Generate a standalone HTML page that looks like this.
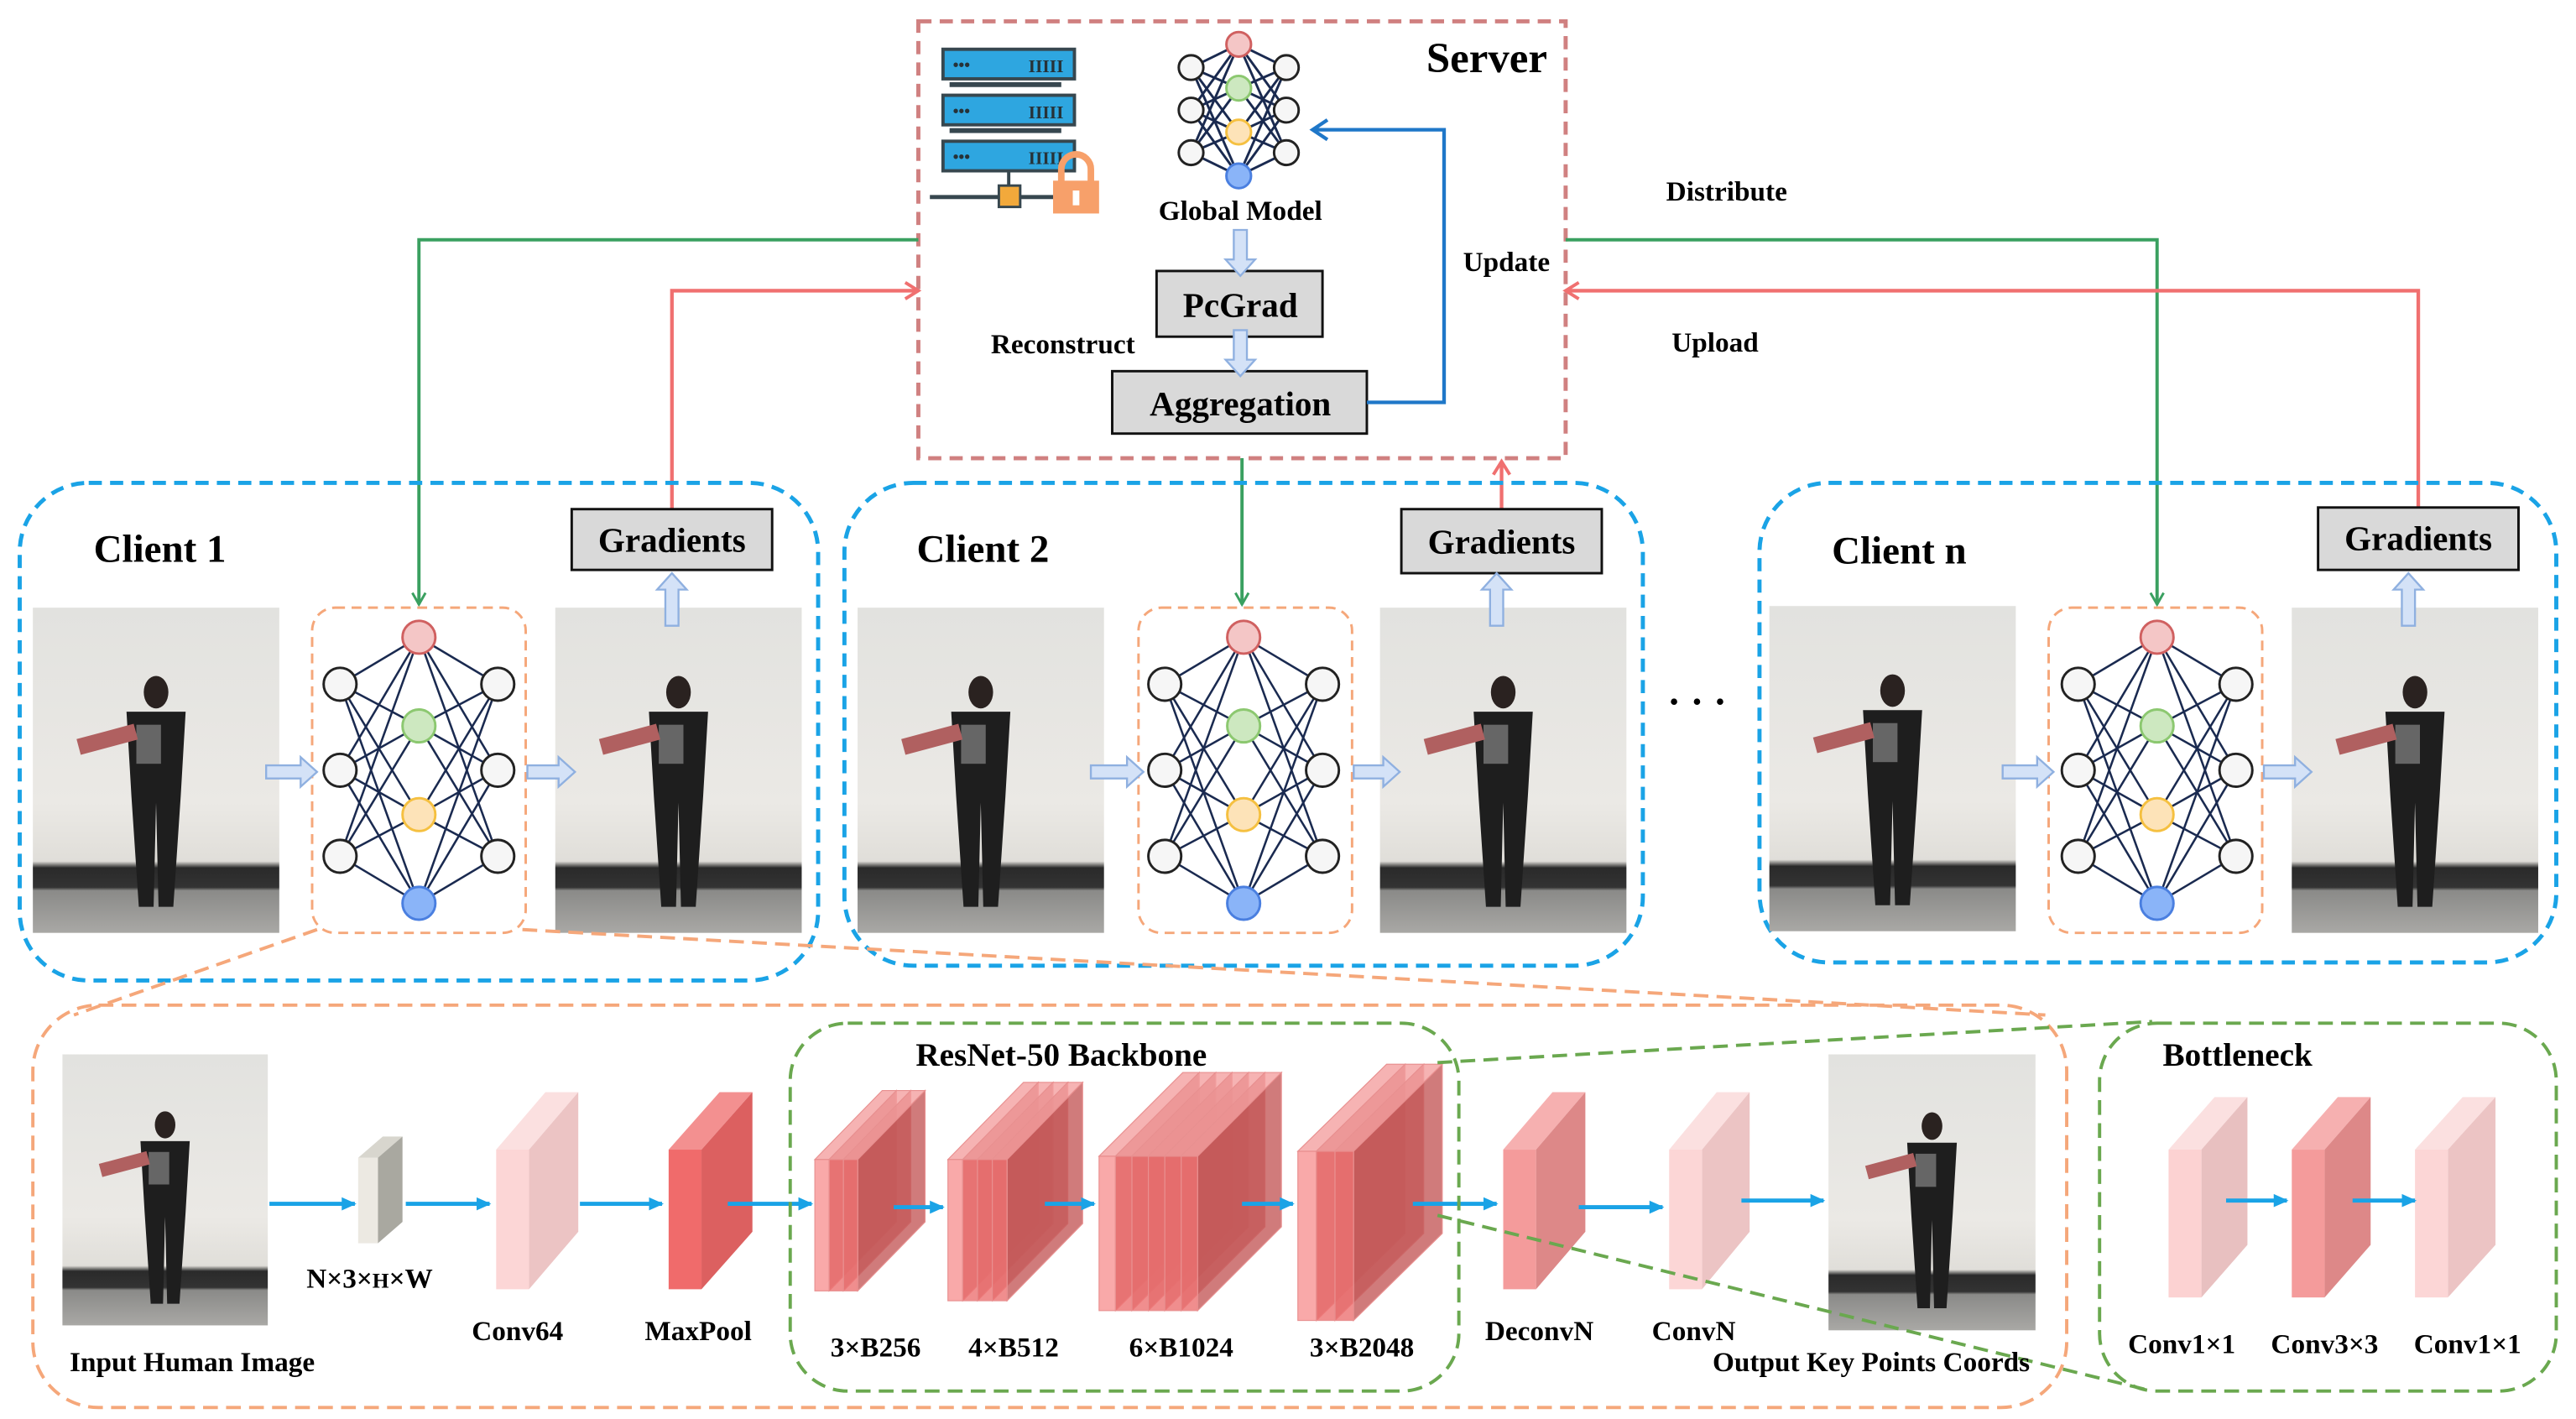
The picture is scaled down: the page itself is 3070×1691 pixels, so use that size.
<!DOCTYPE html>
<html><head><meta charset="utf-8"><style>
html,body{margin:0;padding:0;background:#fff}
svg{display:block}
text{font-family:"Liberation Serif",serif;font-weight:bold;fill:#000}
</style></head><body>
<svg id="s" width="3070" height="1691" viewBox="0 0 1568 864" preserveAspectRatio="none" xmlns="http://www.w3.org/2000/svg">
<defs>
<linearGradient id="wall" x1="0" y1="0" x2="0" y2="1">
<stop offset="0" stop-color="#e2e2df"/><stop offset="0.6" stop-color="#ebe9e5"/><stop offset="0.78" stop-color="#e0ded9"/><stop offset="0.8" stop-color="#2a2a2a"/><stop offset="0.86" stop-color="#333"/><stop offset="0.87" stop-color="#8a8a88"/><stop offset="1" stop-color="#a9a8a5"/>
</linearGradient>
<marker id="ag" markerWidth="10" markerHeight="10" refX="8" refY="5" orient="auto" markerUnits="userSpaceOnUse"><path d="M1,1 L8,5 L1,9" fill="none" stroke="#3aa060" stroke-width="1.5"/></marker>
<marker id="ar" markerWidth="12" markerHeight="12" refX="9" refY="6" orient="auto" markerUnits="userSpaceOnUse"><path d="M1,1 L9,6 L1,11" fill="none" stroke="#f07070" stroke-width="2"/></marker>
<marker id="ab" markerWidth="14" markerHeight="14" refX="10" refY="7" orient="auto" markerUnits="userSpaceOnUse"><path d="M1,1 L10,7 L1,13" fill="none" stroke="#1f77c8" stroke-width="2.2"/></marker>
<marker id="ac" markerWidth="10" markerHeight="10" refX="8" refY="5" orient="auto" markerUnits="userSpaceOnUse"><path d="M0,1 L9,5 L0,9 Z" fill="#1aa3e6"/></marker>
</defs>

<rect x="559" y="13" width="394" height="266" fill="none" stroke="#d08080" stroke-width="2.5" stroke-dasharray="8,5"/>
<g>
<rect x="574" y="30" width="80" height="18" fill="#2ea6e0" stroke="#37474f" stroke-width="2"/>
<rect x="574" y="58" width="80" height="18" fill="#2ea6e0" stroke="#37474f" stroke-width="2"/>
<rect x="574" y="86" width="80" height="18" fill="#2ea6e0" stroke="#37474f" stroke-width="2"/>
<rect x="578" y="50" width="68" height="3" fill="#37474f"/><rect x="578" y="78" width="68" height="3" fill="#37474f"/>
<text x="580" y="43" style="font-size:10px;fill:#263238">•••</text><text x="580" y="71" style="font-size:10px;fill:#263238">•••</text><text x="580" y="99" style="font-size:10px;fill:#263238">•••</text>
<text x="626" y="44" style="font-size:11px;fill:#263238">IIIII</text><text x="626" y="72" style="font-size:11px;fill:#263238">IIIII</text><text x="626" y="100" style="font-size:11px;fill:#263238">IIIII</text>
<line x1="614" y1="104" x2="614" y2="114" stroke="#37474f" stroke-width="2"/>
<line x1="566" y1="120" x2="660" y2="120" stroke="#37474f" stroke-width="2.5"/>
<rect x="608" y="113" width="13" height="13" fill="#f2a93b" stroke="#37474f" stroke-width="1.5"/>
<path d="M646,112 V103 a9,9 0 0 1 18,0 V112" fill="none" stroke="#f7a06a" stroke-width="4"/>
<rect x="641" y="110" width="28" height="20" fill="#f7a06a"/>
<rect x="653" y="116" width="4" height="9" fill="#fff"/>
</g>
<g id="gm"></g>
<text x="755" y="134" text-anchor="middle" style="font-size:17px">Global Model</text>
<text x="905" y="44" text-anchor="middle" style="font-size:26px">Server</text>
<rect x="704" y="165" width="101" height="40" fill="#d9d9d9" stroke="#111" stroke-width="1.5"/>
<text x="755" y="193" text-anchor="middle" style="font-size:21px">PcGrad</text>
<rect x="677" y="226" width="155" height="38" fill="#d9d9d9" stroke="#111" stroke-width="1.5"/>
<text x="755" y="253" text-anchor="middle" style="font-size:21px">Aggregation</text>
<text x="647" y="215" text-anchor="middle" style="font-size:17px">Reconstruct</text>
<text x="917" y="165" text-anchor="middle" style="font-size:17px">Update</text>
<text x="1051" y="122" text-anchor="middle" style="font-size:17px">Distribute</text>
<text x="1044" y="214" text-anchor="middle" style="font-size:17px">Upload</text>
<polyline points="832,245 879,245 879,79 799,79" fill="none" stroke="#1f77c8" stroke-width="2.2" marker-end="url(#ab)"/>

<polyline points="559,146 255,146 255,368" fill="none" stroke="#3aa060" stroke-width="2" marker-end="url(#ag)"/>
<polyline points="953,146 1313,146 1313,368" fill="none" stroke="#3aa060" stroke-width="2" marker-end="url(#ag)"/>
<line x1="756" y1="279" x2="756" y2="368" stroke="#3aa060" stroke-width="2" marker-end="url(#ag)"/>
<polyline points="409,310 409,177 559,177" fill="none" stroke="#f07070" stroke-width="2.2" marker-end="url(#ar)"/>
<polyline points="1472,309 1472,177 953,177" fill="none" stroke="#f07070" stroke-width="2.2" marker-end="url(#ar)"/>
<line x1="914" y1="310" x2="914" y2="281" stroke="#f07070" stroke-width="2.2" marker-end="url(#ar)"/>

<rect x="12" y="294" width="486" height="303" rx="42" fill="none" stroke="#1aa3e6" stroke-width="2.5" stroke-dasharray="8,5"/>
<rect x="514" y="294" width="486" height="294" rx="42" fill="none" stroke="#1aa3e6" stroke-width="2.5" stroke-dasharray="8,5"/>
<rect x="1071" y="294" width="485" height="292" rx="42" fill="none" stroke="#1aa3e6" stroke-width="2.5" stroke-dasharray="8,5"/>
<text x="57" y="342" style="font-size:24px">Client 1</text>
<text x="558" y="342" style="font-size:24px">Client 2</text>
<text x="1115" y="343" style="font-size:24px">Client n</text>
<rect x="348" y="310" width="122" height="37" fill="#d9d9d9" stroke="#111" stroke-width="1.5"/>
<text x="409" y="336" text-anchor="middle" style="font-size:21px">Gradients</text>
<rect x="853" y="310" width="122" height="39" fill="#d9d9d9" stroke="#111" stroke-width="1.5"/>
<text x="914" y="337" text-anchor="middle" style="font-size:21px">Gradients</text>
<rect x="1411" y="309" width="122" height="38" fill="#d9d9d9" stroke="#111" stroke-width="1.5"/>
<text x="1472" y="335" text-anchor="middle" style="font-size:21px">Gradients</text>
<text x="1033" y="435" text-anchor="middle" style="font-size:24px">· · ·</text>
<g id="dyn"></g>

<rect x="20" y="612" width="1238" height="245" rx="40" fill="none" stroke="#f5a77a" stroke-width="2" stroke-dasharray="9,5"/>
<line x1="193" y1="566" x2="45" y2="618" stroke="#f5a77a" stroke-width="2" stroke-dasharray="9,5"/>
<line x1="318" y1="566" x2="1245" y2="618" stroke="#f5a77a" stroke-width="2" stroke-dasharray="9,5"/>
<rect x="481" y="623" width="407" height="224" rx="35" fill="none" stroke="#6aa84f" stroke-width="2" stroke-dasharray="9,5"/>
<rect x="1278" y="623" width="278" height="224" rx="35" fill="none" stroke="#6aa84f" stroke-width="2" stroke-dasharray="9,5"/>
<line x1="875" y1="647" x2="1310" y2="622" stroke="#6aa84f" stroke-width="2" stroke-dasharray="9,5"/>
<line x1="875" y1="740" x2="1310" y2="847" stroke="#6aa84f" stroke-width="2" stroke-dasharray="9,5"/>
<text x="646" y="649" text-anchor="middle" style="font-size:20px">ResNet-50 Backbone</text>
<text x="1362" y="649" text-anchor="middle" style="font-size:20px">Bottleneck</text>
<text x="117" y="835" text-anchor="middle" style="font-size:17px">Input Human Image</text>
<text x="225" y="784" text-anchor="middle" style="font-size:17px">N×3×<tspan style="font-size:13px">H</tspan>×W</text>
<text x="315" y="816" text-anchor="middle" style="font-size:17px">Conv64</text>
<text x="425" y="816" text-anchor="middle" style="font-size:17px">MaxPool</text>
<text x="533" y="826" text-anchor="middle" style="font-size:17px">3×B256</text>
<text x="617" y="826" text-anchor="middle" style="font-size:17px">4×B512</text>
<text x="719" y="826" text-anchor="middle" style="font-size:17px">6×B1024</text>
<text x="829" y="826" text-anchor="middle" style="font-size:17px">3×B2048</text>
<text x="937" y="816" text-anchor="middle" style="font-size:17px">DeconvN</text>
<text x="1031" y="816" text-anchor="middle" style="font-size:17px">ConvN</text>
<text x="1139" y="835" text-anchor="middle" style="font-size:17px">Output Key Points Coords</text>
<text x="1328" y="824" text-anchor="middle" style="font-size:17px">Conv1×1</text>
<text x="1415" y="824" text-anchor="middle" style="font-size:17px">Conv3×3</text>
<text x="1502" y="824" text-anchor="middle" style="font-size:17px">Conv1×1</text>
</svg>
<script>
var NS="http://www.w3.org/2000/svg";
var dyn=document.getElementById("dyn"),gm=document.getElementById("gm");
function el(p,t,a){var e=document.createElementNS(NS,t);for(var k in a)e.setAttribute(k,a[k]);p.appendChild(e);return e;}
function nn(p,cx,cy0,dy,r,sx,sw){
 var mid=[[cy0,"#f4c6c6","#d06060"],[cy0+dy,"#cde8c0","#8cc870"],[cy0+2*dy,"#fde3b8","#f5c040"],[cy0+3*dy,"#8ab4f8","#4a7fe0"]];
 var side=[cy0+dy*0.53,cy0+dy*1.5,cy0+dy*2.47];
 for(var s=-1;s<=1;s+=2)for(var i=0;i<3;i++)for(var j=0;j<4;j++)el(p,"line",{x1:cx+s*sx,y1:side[i],x2:cx,y2:mid[j][0],stroke:"#1a2a50","stroke-width":sw});
 for(var j=0;j<4;j++)el(p,"circle",{cx:cx,cy:mid[j][0],r:r,fill:mid[j][1],stroke:mid[j][2],"stroke-width":1.5});
 for(var s=-1;s<=1;s+=2)for(var i=0;i<3;i++)el(p,"circle",{cx:cx+s*sx,cy:side[i],r:r,fill:"#f6f6f6",stroke:"#222","stroke-width":1.5});
}
nn(gm,754,27,26.7,7.5,29,1.5);
function photo(x,y,w,h){
 el(dyn,"rect",{x:x,y:y,width:w,height:h,fill:"url(#wall)"});
 var cx=x+w*0.5;
 el(dyn,"ellipse",{cx:cx,cy:y+h*0.26,rx:w*0.05,ry:h*0.05,fill:"#2a2220"});
 el(dyn,"path",{d:"M"+(cx-w*0.12)+","+(y+h*0.32)+" L"+(cx+w*0.12)+","+(y+h*0.32)+" L"+(cx+w*0.1)+","+(y+h*0.58)+" L"+(cx+w*0.07)+","+(y+h*0.92)+" L"+(cx+w*0.01)+","+(y+h*0.92)+" L"+cx+","+(y+h*0.6)+" L"+(cx-w*0.01)+","+(y+h*0.92)+" L"+(cx-w*0.07)+","+(y+h*0.92)+" L"+(cx-w*0.1)+","+(y+h*0.58)+"Z",fill:"#1e1e1e"});
 el(dyn,"rect",{x:cx-w*0.08,y:y+h*0.36,width:w*0.1,height:h*0.12,fill:"#666"});
 el(dyn,"rect",{x:x+w*0.18,y:y+h*0.38,width:w*0.24,height:h*0.05,fill:"#b06060",transform:"rotate(-15 "+(x+w*0.3)+" "+(y+h*0.4)+")"});
}
function barr(x1,y1,x2,y2){
 var g=el(dyn,"g",{});
 var dx=x2-x1,dy=y2-y1,L=Math.sqrt(dx*dx+dy*dy),a=Math.atan2(dy,dx)*180/Math.PI;
 el(g,"path",{d:"M0,-4 L"+(L-10)+",-4 L"+(L-10)+",-9 L"+L+",0 L"+(L-10)+",9 L"+(L-10)+",4 L0,4Z",fill:"#d4e2f7",stroke:"#8fb0e0","stroke-width":1.2,transform:"translate("+x1+","+y1+") rotate("+a+")"});
}
[[20,338,190,255,370],[522,840,693,757,370],[1077,1395,1247,1313,369]].forEach(function(c){
 photo(c[0],c[4],150,198); photo(c[1],370,150,198);
 el(dyn,"rect",{x:c[2],y:370,width:130,height:198,rx:14,fill:"#fff",stroke:"#f5a77a","stroke-width":1.5,"stroke-dasharray":"6,4"});
 var g=el(dyn,"g",{});nn(g,c[3],388,54,10,48,1.3);
 barr(c[0]+142,470,c[2]+3,470); barr(c[2]+131,470,c[1]+12,470);
 barr(c[1]+71,381,c[1]+71,349);
});
barr(755,140,755,168); barr(755,201,755,229);
photo(38,642,125,165); photo(1113,642,126,168);
function slab(x,yt,w,H,dx,dy,front,side,top,op,edge){
 var a={fill:top,"fill-opacity":op};if(edge){a.stroke=edge;a["stroke-width"]=0.6;}
 a.points=x+","+yt+" "+(x+dx)+","+(yt-dy)+" "+(x+w+dx)+","+(yt-dy)+" "+(x+w)+","+yt;el(dyn,"polygon",a);
 var b={fill:side,"fill-opacity":op};if(edge){b.stroke=edge;b["stroke-width"]=0.6;}
 b.points=(x+w)+","+yt+" "+(x+w+dx)+","+(yt-dy)+" "+(x+w+dx)+","+(yt-dy+H)+" "+(x+w)+","+(yt+H);el(dyn,"polygon",b);
 var c={x:x,y:yt,width:w,height:H,fill:front,"fill-opacity":op};if(edge){c.stroke=edge;c["stroke-width"]=0.6;}
 el(dyn,"rect",c);
}
function block(x,yt,w,H,dx,dy,c){slab(x,yt,w,H,dx,dy,c[0],c[1],c[2],1);}
function stack(x,yt,n,w,H,dx,dy){
 for(var i=0;i<n;i++){var xi=x+i*w;slab(xi,yt,w,H,dx,dy,i==0?"#f79494":"#ec7272","#c45a5a","#f4a0a0",0.8,"#e89090");}
}
block(218,705,12,52,15,13,["#ece9e2","#a9a8a0","#d8d6ce"]);
block(302,700,20,85,30,35,["#fcd6d6","#ecc4c4","#fbe0e0"]);
block(407,700,20,85,31,35,["#f06b6b","#dc6060","#f39090"]);
stack(496,706,3,8.7,80,41,42);
stack(577,706,4,9,86,46,47);
stack(669,704,6,10,94,51,51);
stack(790,701,3,11.3,103,54,53);
block(915,700,20,85,30,35,["#f49b9b","#dd8888","#f6b0b0"]);
block(1016,700,20,85,29,35,["#fcd6d6","#ecc4c4","#fbe0e0"]);
block(1320,700,20,90,28,32,["#fcd2d2","#e8c0c0","#fbe0e0"]);
block(1395,700,20,90,28,32,["#f49b9b","#dd8888","#f6b0b0"]);
block(1470,700,20,90,29,32,["#fcd6d6","#ecc4c4","#fbe0e0"]);
[[164,733,216],[247,733,298],[353,733,403],[443,733,494],[544,735,574],[636,733,666],[756,733,787],[860,733,911],[961,735,1012],[1060,731,1110],[1355,731,1392],[1432,731,1470]].forEach(function(a){
 el(dyn,"line",{x1:a[0],y1:a[1],x2:a[2],y2:a[1],stroke:"#1aa3e6","stroke-width":2.5,"marker-end":"url(#ac)"});
});
</script>
</body></html>
